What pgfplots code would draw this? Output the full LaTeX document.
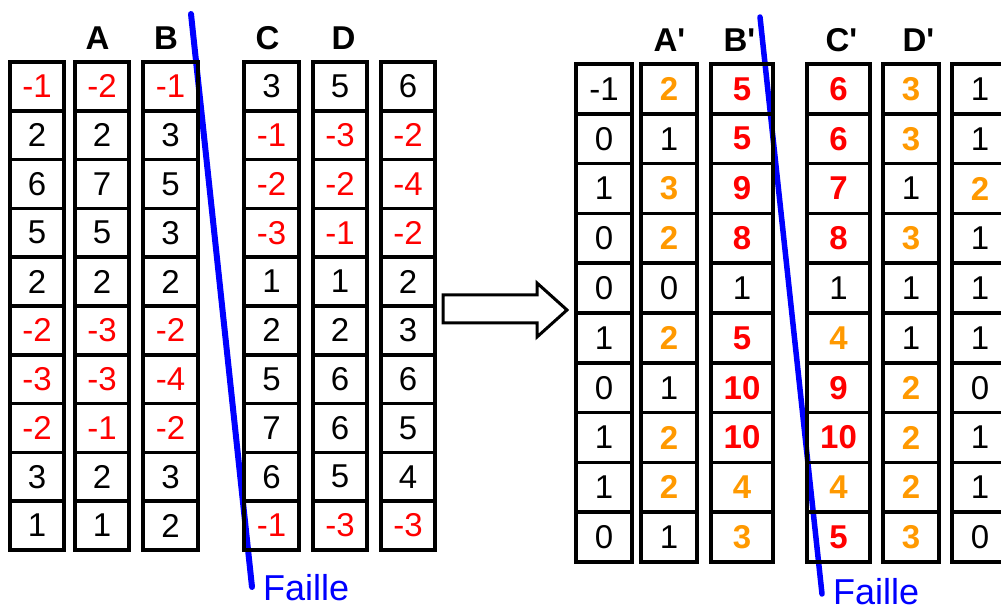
\documentclass[border=0pt]{standalone}
\usepackage{fontspec}
\setmainfont{Liberation Sans}
\usepackage{pgfplots}
\usepackage{pgfplotstable}
\pgfplotsset{compat=1.18}
\definecolor{fred}{RGB}{255,0,0}
\definecolor{forange}{RGB}{255,153,0}
\definecolor{fblue}{RGB}{0,0,255}
\newcommand\lfmt[1]{\ifnum#1<0 \textcolor{fred}{#1}\else #1\fi}
\newcommand\rfmt[1]{\ifnum#1>4 \textcolor{fred}{\bfseries #1}\else\ifnum#1>1 \textcolor{forange}{\bfseries #1}\else #1\fi\fi}

\pgfplotstableread{
y c1 c2 c3 c4 c5 c6
86.4 -1 -2 -1 3 5 6
135.2 2 2 3 -1 -3 -2
184.0 6 7 5 -2 -2 -4
232.8 5 5 3 -3 -1 -2
281.6 2 2 2 1 1 2
330.4 -2 -3 -2 2 2 3
379.2 -3 -3 -4 5 6 6
428.0 -2 -1 -2 7 6 5
476.8 3 2 3 6 5 4
525.6 1 1 2 -1 -3 -3
}\lefttab

\pgfplotstableread{
y c1 c2 c3 c4 c5 c6
88.9 -1 2 5 6 3 1
138.7 0 1 5 6 3 1
188.5 1 3 9 7 1 2
238.3 0 2 8 8 3 1
288.1 0 0 1 1 1 1
337.9 1 2 5 4 1 1
387.7 0 1 10 9 2 0
437.5 1 2 10 10 2 1
487.3 1 2 4 4 2 1
537.1 0 1 3 5 3 0
}\righttab

\pgfplotsset{
  cellbase/.style={only marks, mark=square, line width=3.5pt, black,
    point meta=explicit symbolic,
    every node near coord/.append style={anchor=center, inner sep=0pt, text=black,
      font=\fontsize{33}{36}\selectfont}},
  cellL/.style={cellbase, mark size=24.4pt, mark options={xscale=#1/48.8},
    nodes near coords={\lfmt{\pgfplotspointmeta}}},
  cellR/.style={cellbase, mark size=24.9pt, mark options={xscale=#1/49.8},
    nodes near coords={\rfmt{\pgfplotspointmeta}}},
}

\begin{document}
\begin{tikzpicture}
\begin{axis}[name=ax, width=1001pt, height=609pt, scale only axis,
  xmin=0, xmax=1001, ymin=0, ymax=609, y dir=reverse, hide axis, clip=false]

% left panel
\addplot[cellL=54] table[x expr=37, y=y, meta=c1]{\lefttab};
\addplot[cellL=54] table[x expr=102, y=y, meta=c2]{\lefttab};
\addplot[cellL=55] table[x expr=170.5, y=y, meta=c3]{\lefttab};
\addplot[cellL=55] table[x expr=271.5, y=y, meta=c4]{\lefttab};
\addplot[cellL=54] table[x expr=340, y=y, meta=c5]{\lefttab};
\addplot[cellL=54] table[x expr=408, y=y, meta=c6]{\lefttab};

% right panel
\addplot[cellR=56] table[x expr=604, y=y, meta=c1]{\righttab};
\addplot[cellR=56] table[x expr=669, y=y, meta=c2]{\righttab};
\addplot[cellR=62] table[x expr=742, y=y, meta=c3]{\righttab};
\addplot[cellR=63] table[x expr=838.5, y=y, meta=c4]{\righttab};
\addplot[cellR=56] table[x expr=911, y=y, meta=c5]{\righttab};
\addplot[cellR=56] table[x expr=980, y=y, meta=c6]{\righttab};

% arrow
\addplot[draw=black, fill=white, line width=3pt, line join=miter, mark=none]
  coordinates {(443,295)(537,295)(537,283)(567,310)(537,337)(537,323)(443,323)} --cycle;

% faults
\addplot[fblue, line width=6pt, line cap=round, mark=none] coordinates {(191,14)(252,587)};
\addplot[fblue, line width=5.5pt, line cap=round, mark=none] coordinates {(760,17)(822,594)};

\node[anchor=base west, text=fblue, inner sep=0pt, font=\fontsize{36}{40}\selectfont] at (axis cs:263,600) {Faille};
\node[anchor=base west, text=fblue, inner sep=0pt, font=\fontsize{36}{40}\selectfont] at (axis cs:833,604) {Faille};

% headers
\begin{scope}[every node/.style={anchor=base, inner sep=0pt, font=\bfseries\fontsize{33}{36}\selectfont}]
\node at (axis cs:97.5,49.3) {A};
\node at (axis cs:166,49.3) {B};
\node at (axis cs:267.5,49.3) {C};
\node at (axis cs:343.5,49.3) {D};
\node at (axis cs:669.5,51.7) {A\textquotesingle};
\node at (axis cs:739.5,51.7) {B\textquotesingle};
\node at (axis cs:841.5,51.7) {C\textquotesingle};
\node at (axis cs:918.5,51.7) {D\textquotesingle};
\end{scope}
\end{axis}
\pgfresetboundingbox
\path[use as bounding box] (ax.south west) rectangle (ax.north east);
\end{tikzpicture}
\end{document}
